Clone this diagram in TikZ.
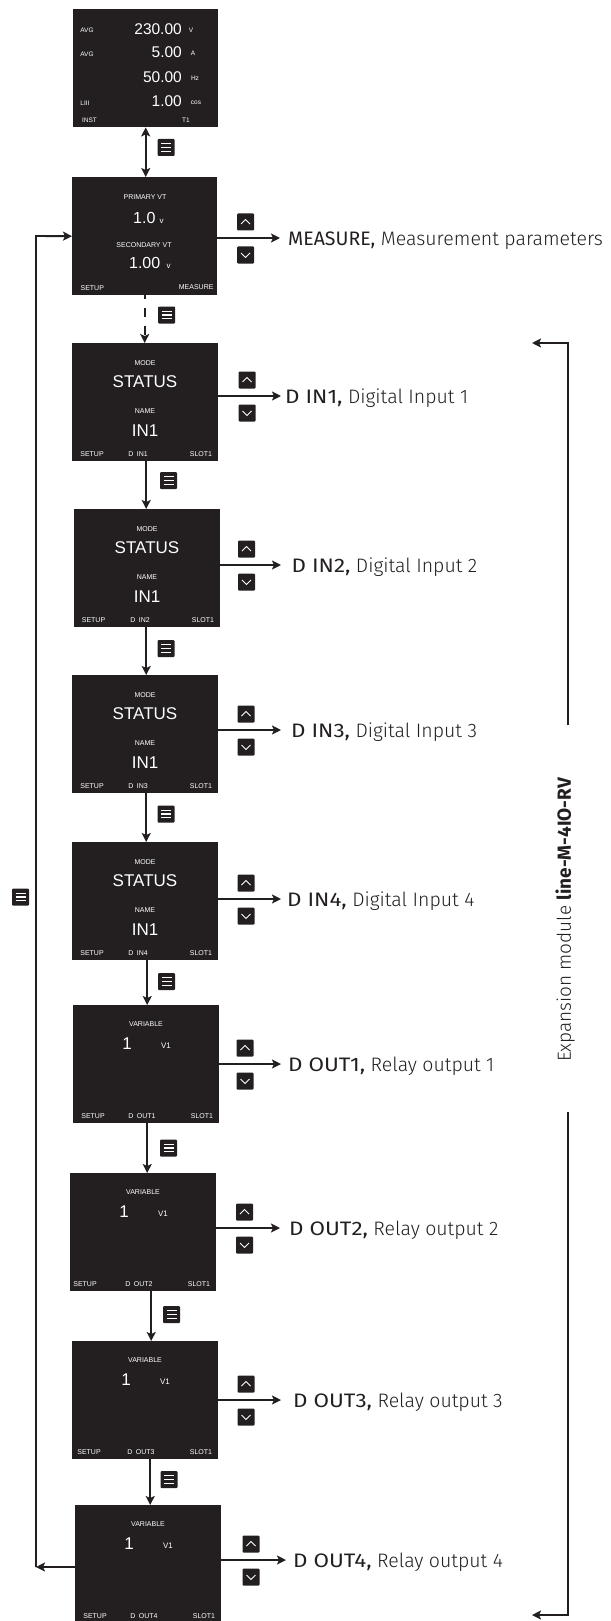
\documentclass[tikz,border=0pt]{standalone}
\usepackage{graphicx}
\usepackage{fontspec}
\setmainfont{Liberation Sans}
\IfFontExistsTF{FiraSans-Light.otf}
 {\newfontfamily\lblfont{FiraSans-Light.otf}}
 {\IfFontExistsTF{Fira Sans Light}
   {\newfontfamily\lblfont{Fira Sans Light}}
   {\newfontfamily\lblfont{Fira Sans}}}
\IfFontExistsTF{FiraSans-Regular.otf}
 {\newfontfamily\lblreg{FiraSans-Regular.otf}}
 {\newfontfamily\lblreg{Fira Sans}}
\IfFontExistsTF{FiraSans-Medium.otf}
 {\newfontfamily\lblsemi{FiraSans-Medium.otf}}
 {\newcommand\lblsemi{\lblreg\bfseries}}
\newcommand\lblkey[2][1.15]{\scalebox{#1}[1]{\lblreg #2}}
\usetikzlibrary{arrows.meta,calc}
\definecolor{ink}{HTML}{231F20}
\newcommand\scrtext[5]{\node[#3] (#1-#2) at ($(#1.north west)+(#4)$) {#5};}
\newcommand\outrow[6]{%
 \coordinate (#1-tip) at (#3,#2);
 \draw[con] (#1.east |- #1-tip) -- (#1-tip);
 \node[lbl] (#1-lbl) at (#4,#2+7.5) {#6};
 \node[upic] (#1-up) at (#5,#2-16) {};
 \node[dnic] (#1-dn) at (#5,#2+17) {};
}
\newcommand\dinbox[4]{% name, pos, label, setup x
 \node[scr] (#1) at (#2) {};
 \scrtext{#1}{a}{sm}{73,20}{MODE}
 \scrtext{#1}{b}{big}{73,39}{STATUS}
 \scrtext{#1}{c}{sm}{73,68}{NAME}
 \scrtext{#1}{d}{big}{73,88}{IN1}
 \scrtext{#1}{e}{sm}{#4,111}{SETUP}
 \scrtext{#1}{f}{sm}{66,111}{D\enspace #3}
 \scrtext{#1}{g}{sm}{129,111}{SLOT1}
}
\newcommand\doutbox[4]{% name, pos, label, setup x
 \node[scr] (#1) at (#2) {};
 \scrtext{#1}{a}{sm}{73,19.5}{VARIABLE}
 \scrtext{#1}{b}{big}{54,38.5}{1}
 \scrtext{#1}{c}{vone}{93,41}{V1}
 \scrtext{#1}{e}{sm}{#4,111}{SETUP}
 \scrtext{#1}{f}{sm}{69,111}{D\enspace #3}
 \scrtext{#1}{g}{sm}{129,111}{SLOT1}
}
\begin{document}
\begin{tikzpicture}[x=1pt,y=-1pt,
 scr/.style={fill=ink,inner sep=0,minimum width=146pt,minimum height=118pt,anchor=north west},
 wt/.style={text=white,inner sep=0},
 sm/.style={wt,font=\fontsize{7}{8}\selectfont},
 tinyt/.style={wt,font=\fontsize{6.5}{7}\selectfont},
 vone/.style={wt,font=\fontsize{8}{9}\selectfont},
 big/.style={wt,font=\fontsize{17}{18}\selectfont},
 numa/.style={wt,font=\fontsize{15.5}{17}\selectfont,anchor=east},
 numb/.style={wt,font=\fontsize{16}{17}\selectfont},
 con/.style={draw=ink,line width=1.9pt,-{Stealth[length=9pt,width=9pt,inset=2pt]}},
 con2/.style={con,{Stealth[length=9pt,width=9pt,inset=2pt]}-{Stealth[length=9pt,width=9pt,inset=2pt]}},
 lbl/.style={anchor=base west,inner sep=0,text=ink,font=\lblfont\fontsize{19.5}{22}\selectfont},
 iconbox/.style={fill=ink,inner sep=0,minimum size=17pt,rounded corners=1pt},
 menuic/.style={iconbox,path picture={\foreach \dy in {-3.6,0,3.6}{\draw[white,line width=1.1pt,sharp corners] ([xshift=-5pt,yshift=\dy pt]path picture bounding box.center) -- ([xshift=5pt,yshift=\dy pt]path picture bounding box.center);}}},
 upic/.style={iconbox,path picture={\draw[white,line width=0.9pt,sharp corners] ([shift={(-4.5pt,-2pt)}]path picture bounding box.center) -- ([shift={(0pt,2.5pt)}]path picture bounding box.center) -- ([shift={(4.5pt,-2pt)}]path picture bounding box.center);}},
 dnic/.style={iconbox,path picture={\draw[white,line width=0.9pt,sharp corners] ([shift={(-4.5pt,2pt)}]path picture bounding box.center) -- ([shift={(0pt,-2.5pt)}]path picture bounding box.center) -- ([shift={(4.5pt,2pt)}]path picture bounding box.center);}}
]
\path[use as bounding box] (0,0) rectangle (610,1621);

% ---- box 1
\node[scr,minimum width=145pt] (b1) at (73,9) {};
\scrtext{b1}{a}{tinyt}{14,21.7}{AVG}
\scrtext{b1}{b}{numa}{109,20.3}{230.00}
\scrtext{b1}{c}{tinyt}{118,21.5}{V}
\scrtext{b1}{d}{tinyt}{14,45}{AVG}
\scrtext{b1}{e}{numa}{109,43}{5.00}
\scrtext{b1}{f}{tinyt}{120,44}{A}
\scrtext{b1}{g}{numa}{109,68.5}{50.00}
\scrtext{b1}{h}{tinyt}{122,69}{Hz}
\scrtext{b1}{i}{tinyt}{12,94}{LIII}
\scrtext{b1}{j}{numa}{109,92}{1.00}
\scrtext{b1}{k}{tinyt}{123,93.7}{cos}
\scrtext{b1}{l}{tinyt}{16.5,111}{INST}
\scrtext{b1}{m}{tinyt}{113,111}{T1}

% ---- box 2
\node[scr,minimum width=145pt] (b2) at (72,177) {};
\scrtext{b2}{a}{sm}{73,20}{PRIMARY VT}
\scrtext{b2}{b}{numb}{72.3,40.5}{1.0}
\scrtext{b2}{c}{vone}{89.7,44.5}{v}
\scrtext{b2}{d}{sm}{72,68}{SECONDARY VT}
\scrtext{b2}{e}{numb}{72.7,86.3}{1.00}
\scrtext{b2}{f}{vone}{96.7,89.7}{v}
\scrtext{b2}{g}{sm}{20.3,111.3}{SETUP}
\scrtext{b2}{h}{sm}{124.2,110.3}{MEASURE}

% ---- digital inputs
\dinbox{b3}{72,343}{IN1}{20}
\dinbox{b4}{74,509}{IN2}{19.5}
\dinbox{b5}{72,675}{IN3}{20}
\dinbox{b6}{72,842}{IN4}{20}
% ---- relay outputs
\doutbox{b7}{73,1005}{OUT1}{20}
\doutbox{b8}{70,1173}{OUT2}{15}
\doutbox{b9}{72,1341}{OUT3}{17}
\doutbox{b10}{75,1505}{OUT4}{20}

% ---- vertical connectors
\draw[con2] (b1.south) -- (b1.south |- b2.north);
\draw[con,dash pattern=on 9pt off 9pt,dash phase=5pt] (b2.south) -- (b2.south |- b3.north);
\draw[con] ([xshift=1pt]b3.south) -- ([xshift=1pt]b3.south |- b4.north);
\draw[con] ([xshift=-1pt]b4.south) -- ([xshift=-1pt]b4.south |- b5.north);
\draw[con] ([xshift=1pt]b5.south) -- ([xshift=1pt]b5.south |- b6.north);
\draw[con] ([xshift=2pt]b6.south) -- ([xshift=2pt]b6.south |- b7.north);
\draw[con] ([xshift=1pt]b7.south) -- ([xshift=1pt]b7.south |- b8.north);
\draw[con] ([xshift=8pt]b8.south) -- ([xshift=8pt]b8.south |- b9.north);
\draw[con] ([xshift=5pt]b9.south) -- ([xshift=5pt]b9.south |- b10.north);

% ---- menu icons
\node[menuic] (m12) at (166,147.5) {};
\node[menuic] (m23) at (166.5,315) {};
\node[menuic] (m34) at (168.5,480.5) {};
\node[menuic] (m45) at (166,648.5) {};
\node[menuic] (m56) at (166,814) {};
\node[menuic] (m67) at (166.5,981.5) {};
\node[menuic] (m78) at (168.5,1148) {};
\node[menuic] (m89) at (171.5,1314.5) {};
\node[menuic] (m910) at (169,1479.5) {};
\node[menuic] (mL) at (20.5,897) {};

% ---- outgoing rows
\outrow{b2}{238}{280}{288}{245.5}{\lblkey[1.0]{MEASURE,} Measurement parameters}
\outrow{b3}{396}{281}{285}{247}{\lblkey{D IN1,} Digital Input 1}
\outrow{b4}{565}{281}{291.5}{246.5}{\lblkey{D IN2,} Digital Input 2}
\outrow{b5}{730}{281}{291}{246}{\lblkey{D IN3,} Digital Input 3}
\outrow{b6}{899}{281}{287}{246}{\lblkey{D IN4,} Digital Input 4}
\outrow{b7}{1064}{281}{288}{245}{\lblkey{D OUT1,} Relay output 1}
\outrow{b8}{1228}{280}{289}{244.5}{\lblkey{D OUT2,} Relay output 2}
\outrow{b9}{1400}{281}{293}{246}{\lblkey{D OUT3,} Relay output 3}
\outrow{b10}{1560}{286}{293}{251}{\lblkey{D OUT4,} Relay output 4}

% ---- left return loop
\coordinate (Lb) at (36,1567);
\coordinate (Lt) at (36,236);
\draw[con] (b10.west |- Lb) -- (Lb);
\draw[con] (Lb) -- (Lt) -- (b2.west);

% ---- right bracket
\coordinate (R1) at (568,725);
\coordinate (R2) at (568,343);
\coordinate (R3) at (532,343);
\draw[con] (R1) -- (R2) -- (R3);
\coordinate (R4) at (568,1112);
\coordinate (R5) at (568,1615);
\coordinate (R6) at (532,1615);
\draw[con] (R4) -- (R5) -- (R6);
\node[rotate=90,inner sep=0,text=ink,font=\lblfont\fontsize{19}{22}\selectfont] (vt) at (565,920) {Expansion module {\lblsemi line-M-4IO-RV}};
\end{tikzpicture}
\end{document}
